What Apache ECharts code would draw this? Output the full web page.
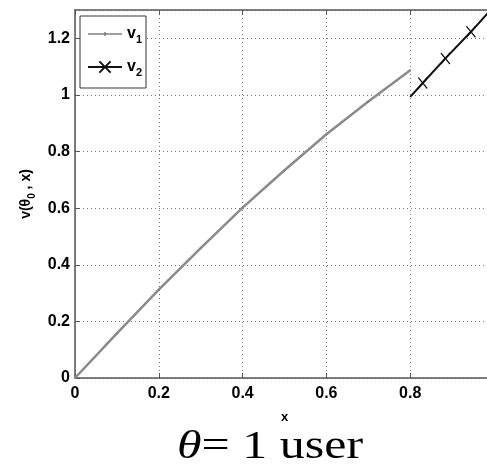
<!DOCTYPE html>
<html>
<head>
<meta charset="utf-8">
<script src="https://cdn.jsdelivr.net/npm/echarts@6/dist/echarts.min.js"></script>
<style>html,body{margin:0;padding:0;background:#fff;}#c{width:487px;height:464px;}</style>
</head>
<body>
<div id="c"></div>
<script>
// Data
const v1X = [0, 0.1, 0.2, 0.3, 0.4, 0.5, 0.6, 0.7, 0.8];
const v1Y = [0, 0.158, 0.312, 0.459, 0.602, 0.734, 0.861, 0.977, 1.087];
const v2X = [0.8, 0.83, 0.884, 0.945, 1.0];
const v2Y = [0.993, 1.042, 1.129, 1.223, 1.313];
const v2Marked = [false, true, true, true, false];
const xTicks = [0, 0.2, 0.4, 0.6, 0.8, 1];
const yTicks = [0, 0.2, 0.4, 0.6, 0.8, 1, 1.2];
const seriesNames = ['v1', 'v2'];

const chart = echarts.init(document.getElementById('c'), null, {renderer: 'canvas'});
const fontFam = '"Liberation Sans", Arial, sans-serif';
const crossPath = 'path://M0,0L10,12M10,0L0,12';
const lineDotIcon = 'path://M0,6.2L34,6.2L34,7.8L0,7.8ZM16,5.2L18,5.2L18,8.8L16,8.8ZM0,0L0.001,0L0,0.001ZM34,14L33.999,14L34,13.999Z';

const subRich = {
  a: {fontSize: 16, fontWeight: 'bold', color: '#000', fontFamily: fontFam, lineHeight: 16, verticalAlign: 'top'},
  s: {fontSize: 11, fontWeight: 'bold', color: '#000', fontFamily: fontFam, lineHeight: 12, padding: [8, 0, 0, 0], verticalAlign: 'top'}
};
const yNameRich = {
  a: {fontSize: 14, fontWeight: 'bold', color: '#000', fontFamily: fontFam, lineHeight: 14, verticalAlign: 'top'},
  s: {fontSize: 10, fontWeight: 'bold', color: '#000', fontFamily: fontFam, lineHeight: 10, padding: [8, 0, 0, 0], verticalAlign: 'top'}
};

const option = {
  backgroundColor: '#fff',
  animation: false,
  grid: {left: 75, right: -7, top: 10, bottom: 86, containLabel: false, outerBoundsMode: 'none'},
  legend: {
    orient: 'vertical', left: 80, top: 16,
    data: [{name: seriesNames[0], icon: lineDotIcon}, {name: seriesNames[1]}],
    itemWidth: 34, itemHeight: 14, itemGap: 14,
    padding: [10, 4, 10, 7],
    borderColor: '#333', borderWidth: 1, backgroundColor: '#fff',
    formatter: function (n) { return '{a|' + n.charAt(0) + '}{s|' + n.slice(1) + '}'; },
    textStyle: {rich: subRich, padding: [0, 0, 0, 0]}
  },
  xAxis: [{
    type: 'value', min: 0, max: 1, interval: 0.2,
    name: 'x', nameLocation: 'middle', nameGap: 33,
    nameTextStyle: {fontSize: 13, fontWeight: 'bold', color: '#000', fontFamily: fontFam},
    axisLine: {show: true, onZero: false, lineStyle: {color: '#555', width: 1.5}},
    axisTick: {show: true, inside: true, length: 5, lineStyle: {color: '#555'}},
    axisLabel: {margin: 8, fontSize: 16, fontWeight: 'bold', color: '#000', fontFamily: fontFam,
      formatter: function (v) { return xTicks.indexOf(+v.toFixed(2)) >= 0 ? String(+v.toFixed(2)) : ''; }},
    splitLine: {show: true, lineStyle: {type: [1, 3], color: '#777', width: 1}}
  }, {
    type: 'value', position: 'top', min: 0, max: 1, interval: 0.2,
    axisLine: {show: true, onZero: false, lineStyle: {color: '#555', width: 1.5}},
    axisTick: {show: true, inside: true, length: 5, lineStyle: {color: '#555'}},
    axisLabel: {show: false}, splitLine: {show: false}
  }],
  yAxis: {
    type: 'value', min: 0, max: 1.3, interval: 0.2,
    name: '{a|v(θ}{s|0}{a| , x)}', nameLocation: 'middle', nameGap: 38,
    nameTextStyle: {rich: yNameRich},
    axisLine: {show: true, onZero: false, lineStyle: {color: '#555', width: 1.5}},
    axisTick: {show: true, inside: true, length: 5, lineStyle: {color: '#555'}},
    axisLabel: {margin: 5, fontSize: 16, fontWeight: 'bold', color: '#000', fontFamily: fontFam, showMaxLabel: false,
      formatter: function (v) { const r = +v.toFixed(2); return yTicks.indexOf(r) >= 0 ? String(r) : ''; }},
    splitLine: {show: true, lineStyle: {type: [1, 3], color: '#777', width: 1}}
  },
  series: [{
    name: seriesNames[0], type: 'line',
    data: v1X.map((x, i) => [x, v1Y[i]]),
    symbol: 'circle', symbolSize: 2, showSymbol: true,
    lineStyle: {color: '#8a8a8a', width: 2.5},
    itemStyle: {color: '#808080'},
    emphasis: {disabled: true}
  }, {
    name: seriesNames[1], type: 'line',
    data: v2X.map((x, i) => v2Marked[i] ? {value: [x, v2Y[i]]} : {value: [x, v2Y[i]], symbol: 'none'}),
    symbol: crossPath, symbolSize: [9, 11], showSymbol: true,
    lineStyle: {color: '#111', width: 2},
    itemStyle: {color: 'rgba(0,0,0,0)', borderColor: '#111', borderWidth: 1.3},
    emphasis: {disabled: true}
  }],
  graphic: [{
    type: 'text', x: 177, y: 447, scaleX: 1.25, scaleY: 1, originX: 0, originY: 0,
    style: {
      text: '{i|θ}= 1 user',
      font: '40px "Liberation Serif", "Times New Roman", serif',
      fill: '#000', verticalAlign: 'middle', align: 'left',
      rich: {i: {fontStyle: 'italic', fontSize: 40, fontFamily: '"Liberation Serif", serif'}}
    }
  }]
};
chart.setOption(option);
</script>
</body>
</html>
